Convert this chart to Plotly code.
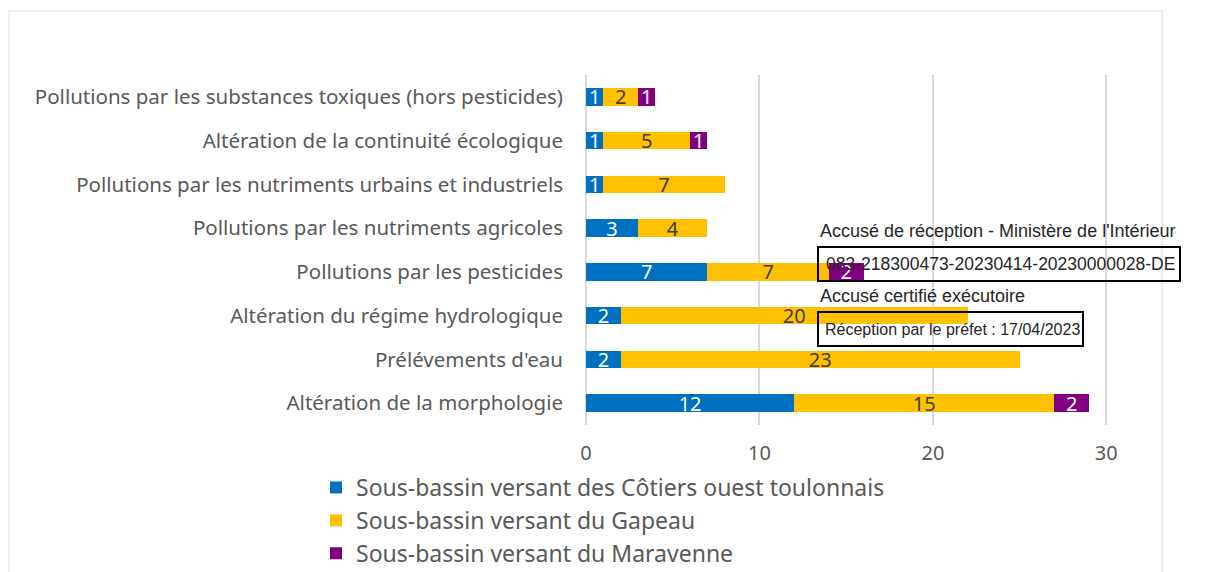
import plotly.graph_objects as go

categories = [
    "Pollutions par les substances toxiques (hors pesticides)",
    "Altération de la continuité écologique",
    "Pollutions par les nutriments urbains et industriels",
    "Pollutions par les nutriments agricoles",
    "Pollutions par les pesticides",
    "Altération du régime hydrologique",
    "Prélévements d'eau",
    "Altération de la morphologie",
]
series_names = [
    "Sous-bassin versant des Côtiers ouest toulonnais",
    "Sous-bassin versant du Gapeau",
    "Sous-bassin versant du Maravenne",
]
cotiers = [1, 1, 1, 3, 7, 2, 2, 12]
gapeau = [2, 5, 7, 4, 7, 20, 23, 15]
maravenne = [1, 1, None, None, 2, None, None, 2]
colors = ["#0070C0", "#FFC000", "#800080"]
label_colors = ["#FFFFFF", "#404040", "#FFFFFF"]
x_ticks = [0, 10, 20, 30]

# page body has an 8px margin; positions below are given in screenshot pixels
OFF = 8
W, H = 1211 - OFF, 572 - OFF
ML, MR, MT, MB = 586 - OFF, 1211 - 1141, 75 - OFF, 572 - 425
PW, PH = W - ML - MR, H - MT - MB

def px(x):
    return (x - OFF - ML) / PW

def py(y):
    return (H - MB - (y - OFF)) / PH

fig = go.Figure()
for name, vals, c, lc in zip(series_names, [cotiers, gapeau, maravenne], colors, label_colors):
    fig.add_trace(go.Bar(
        y=categories, x=vals, name=name, orientation="h",
        marker=dict(color=c, line=dict(width=0)),
        text=[str(v) if v else "" for v in vals],
        textposition="inside", insidetextanchor="middle", textangle=0,
        textfont=dict(color=lc, size=20, family="Noto Sans"),
    ))

fig.update_layout(
    width=W, height=H, barmode="stack", bargap=0.6,
    margin=dict(l=ML, r=MR, t=MT, b=MB, autoexpand=False),
    plot_bgcolor="white", paper_bgcolor="white",
    font=dict(family="Noto Sans", color="#595959"),
    uniformtext=dict(minsize=20, mode="show"),
    showlegend=True,
    legend=dict(x=px(316), y=py(466), xanchor="left", yanchor="top",
                orientation="v", font=dict(size=23, color="#595959"),
                traceorder="normal", itemwidth=30),
    xaxis=dict(range=[0, 32], tickvals=x_ticks, showgrid=True, gridcolor="#D9D9D9",
               gridwidth=1.5, zeroline=True, zerolinecolor="#D9D9D9", zerolinewidth=1.5,
               showline=False, tickfont=dict(size=20, color="#595959"),
               ticks="", ticklabelstandoff=14, fixedrange=True),
    yaxis=dict(autorange="reversed", showgrid=False, showline=False, ticks="",
               tickfont=dict(size=20.5, color="#595959"), ticklabelstandoff=22,
               fixedrange=True),
)

# outer chart frame
fig.add_shape(type="rect", xref="paper", yref="paper",
              x0=px(9), x1=px(1162), y0=py(11), y1=py(590),
              line=dict(color="#EFEFEF", width=2), layer="below")

# stamp overlay
stamp_font = "Liberation Sans"
ink = "#262626"
fig.add_annotation(xref="paper", yref="paper", x=px(818), y=py(231), xanchor="left", yanchor="middle",
                   text="Accusé de réception - Ministère de l'Intérieur", showarrow=False,
                   font=dict(family=stamp_font, size=18, color=ink))
fig.add_shape(type="rect", xref="paper", yref="paper",
              x0=px(818), x1=px(1180), y0=py(247), y1=py(281),
              line=dict(color="#000000", width=2), fillcolor="rgba(255,255,255,0)")
fig.add_annotation(xref="paper", yref="paper", x=px(824), y=py(264), xanchor="left", yanchor="middle",
                   text="083-218300473-20230414-20230000028-DE", showarrow=False,
                   font=dict(family=stamp_font, size=17.5, color=ink))
fig.add_annotation(xref="paper", yref="paper", x=px(818), y=py(296), xanchor="left", yanchor="middle",
                   text="Accusé certifié exécutoire", showarrow=False,
                   font=dict(family=stamp_font, size=18, color=ink))
fig.add_shape(type="rect", xref="paper", yref="paper",
              x0=px(818), x1=px(1083), y0=py(312), y1=py(346),
              line=dict(color="#000000", width=2), fillcolor="rgba(255,255,255,0)")
fig.add_annotation(xref="paper", yref="paper", x=px(823), y=py(329), xanchor="left", yanchor="middle",
                   text="Réception par le préfet : 17/04/2023", showarrow=False,
                   font=dict(family=stamp_font, size=16, color=ink))

fig.write_html("out.html")
